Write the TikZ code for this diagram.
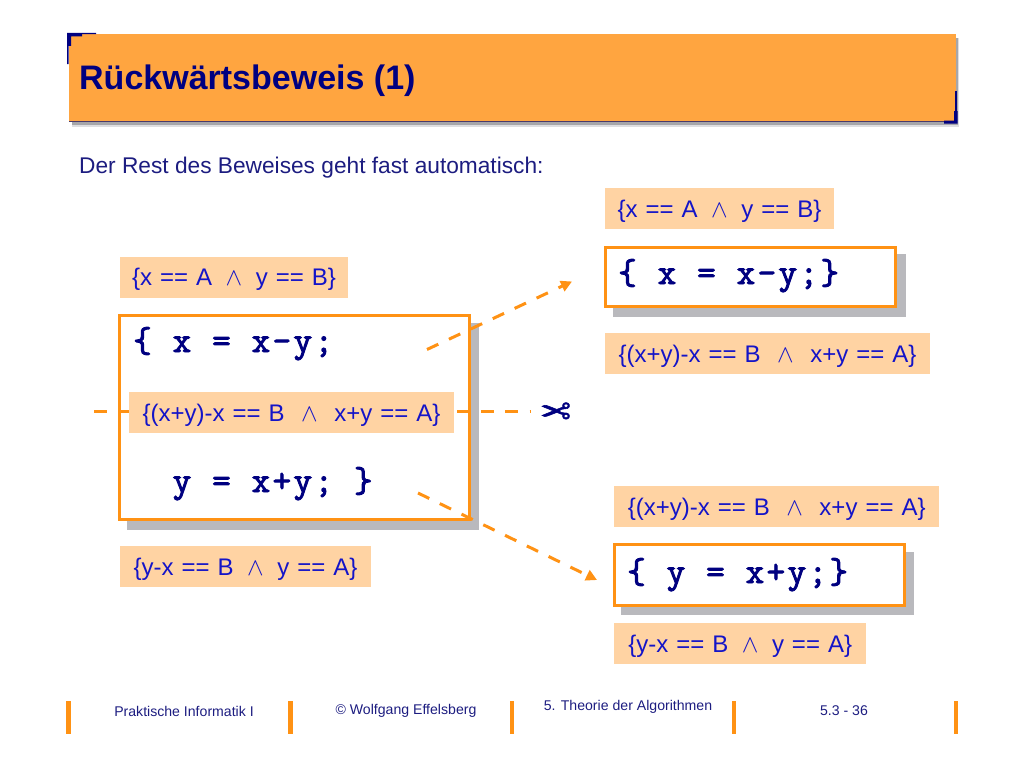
\documentclass[tikz,border=0pt]{standalone}
\usepackage{fontspec}
\setmainfont{Liberation Sans}
\newfontfamily\codefont[LetterSpace=6.7,FakeBold=2.6]{Latin Modern Mono}
\newfontfamily\symfont[FakeBold=1.5]{DejaVu Sans}
\usetikzlibrary{arrows.meta}
\definecolor{bar}{HTML}{FF9214}
\definecolor{titlebg}{HTML}{FFA540}
\definecolor{labbg}{HTML}{FFD3A3}
\definecolor{labtx}{HTML}{1414C8}
\definecolor{navy}{HTML}{000080}
\definecolor{foot}{HTML}{1C1C80}
\definecolor{shade}{HTML}{B9B9BD}
\definecolor{softa}{HTML}{A6A6AA}
\definecolor{softb}{HTML}{DEDEE0}
\definecolor{edge}{HTML}{4A3A6A}
\newcommand{\labfont}{\fontsize{24}{28}\selectfont\spaceskip 8pt\relax}
\tikzset{
 lab/.style={fill=labbg,text=labtx,inner sep=0pt,minimum height=41pt,text height=20pt,text depth=3pt,font=\labfont},
 codebox/.style={draw=bar,line width=3pt,fill=white,inner sep=0pt,anchor=north west},
 shadowbox/.style={fill=shade,inner sep=0pt,anchor=north west},
 code/.style={text=navy,inner sep=0pt,anchor=base west,font=\codefont\fontsize{36}{40}\selectfont},
 foottext/.style={text=foot,inner sep=0pt,font=\fontsize{14.1}{17}\selectfont},
 footbar/.style={fill=bar,inner sep=0pt,minimum width=4.5pt,minimum height=33pt},
 dashline/.style={draw=bar,line width=3pt,dash pattern=on 12.5pt off 11.7pt},
 tipped/.style={-{Triangle[length=11pt,width=11pt]}}
}
\newcommand{\AND}{\hspace{13.5pt}\ensuremath{\wedge}\hspace{13.5pt}}
\newcommand{\ANDL}{\hspace{16.5pt}\ensuremath{\wedge}\hspace{16.5pt}}
\begin{document}
\begin{tikzpicture}[x=1pt,y=-1pt]
\useasboundingbox (0,0) rectangle (1024,768);
% title
\fill[softb] (72,38) rectangle (959,127);
\fill[softa] (72,38) rectangle (958,125);
\node[fill=titlebg,inner sep=0pt,anchor=north west,minimum width=887pt,minimum height=87pt] (titlebox) at (69,34) {};
\fill[edge] (69,121) rectangle (944,122.2);
\fill[navy] (67,33) rectangle (82,36.5) (67,33) rectangle (71,46);
\fill[navy] (82,33) rectangle (96,34.2) (67,46) rectangle (68.5,64);
\fill[navy] (944,120.5) rectangle (957.5,123.5) (954,111) rectangle (957.5,123.5);
\fill[navy] (955,91) rectangle (956.5,111);
\node[text=navy,inner sep=0pt,anchor=base west,font=\bfseries\fontsize{34}{38}\selectfont] (title) at (79,89) {Rückwärtsbeweis (1)};
\node[text=foot,inner sep=0pt,anchor=base west,font=\fontsize{22.7}{26}\selectfont] (intro) at (79,173) {Der Rest des Beweises geht fast automatisch:};
% code boxes
\node[shadowbox,minimum width=352pt,minimum height=207pt] (s1) at (127,323) {};
\node[codebox,minimum width=349.4pt,minimum height=204pt] (main) at (118.3,314) {};
\node[shadowbox,minimum width=293pt,minimum height=63pt] (s2) at (613,254) {};
\node[codebox,minimum width=290pt,minimum height=59.6pt] (top) at (604.3,245.7) {};
\node[shadowbox,minimum width=293pt,minimum height=63pt] (s3) at (621,552) {};
\node[codebox,minimum width=290.3pt,minimum height=60.7pt] (bot) at (612.7,543.3) {};
\node[code] (c1) at (133,352) {\{ x = x-y;};
\node[code] (c2) at (133,492) {\phantom{\{ }y = x+y; \}};
\node[code] (c3) at (618,284) {\{ x = x-y;\}};
\node[code] (c4) at (627,583) {\{ y = x+y;\}};
% dashed connectors
\coordinate (a1) at (427,349.5); \coordinate (a2) at (572,281.5);
\coordinate (b1) at (418,493); \coordinate (b2) at (597,580);
\coordinate (m1) at (94,411); \coordinate (m2) at (530,411);
\draw[dashline] (m1) -- (m2);
\draw[dashline,tipped] (a1) -- (a2);
\draw[dashline,tipped] (b1) -- (b2);
% labels
\node[lab,minimum width=229pt] (l1) at (719.5,208.5) {\{x == A\AND y == B\}};
\node[lab,minimum width=228pt] (l2) at (234,277) {\{x == A\AND y == B\}};
\node[lab,minimum width=325pt] (l3) at (767.5,353.5) {\{(x+y)-x == B\ANDL x+y == A\}};
\node[lab,minimum width=325pt] (l4) at (291.5,412.5) {\{(x+y)-x == B\ANDL x+y == A\}};
\node[lab,minimum width=325pt] (l5) at (776.7,506.5) {\{(x+y)-x == B\ANDL x+y == A\}};
\node[lab,minimum width=251pt] (l6) at (245.5,566.5) {\{y-x == B\AND y == A\}};
\node[lab,minimum width=252pt] (l7) at (740.2,643.5) {\{y-x == B\AND y == A\}};
% scissors
\node[text=navy,inner sep=0pt,xscale=-1,font=\symfont\fontsize{37}{40}\selectfont] (sc) at (555.5,413.5) {✂};
% footer
\node[footbar] (f1) at (68.5,717.5) {};
\node[footbar] (f2) at (290.5,717.5) {};
\node[footbar] (f3) at (512,717.5) {};
\node[footbar] (f4) at (734,717.5) {};
\node[footbar] (f5) at (956,717.5) {};
\node[foottext] (t1) at (184,711) {Praktische Informatik I};
\node[foottext] (t2) at (406,711) {© Wolfgang Effelsberg};
\node[foottext] (t3) at (628,707) {5. Theorie der Algorithmen};
\node[foottext] (t4) at (844,711) {5.3 - 36};
\end{tikzpicture}
\end{document}
